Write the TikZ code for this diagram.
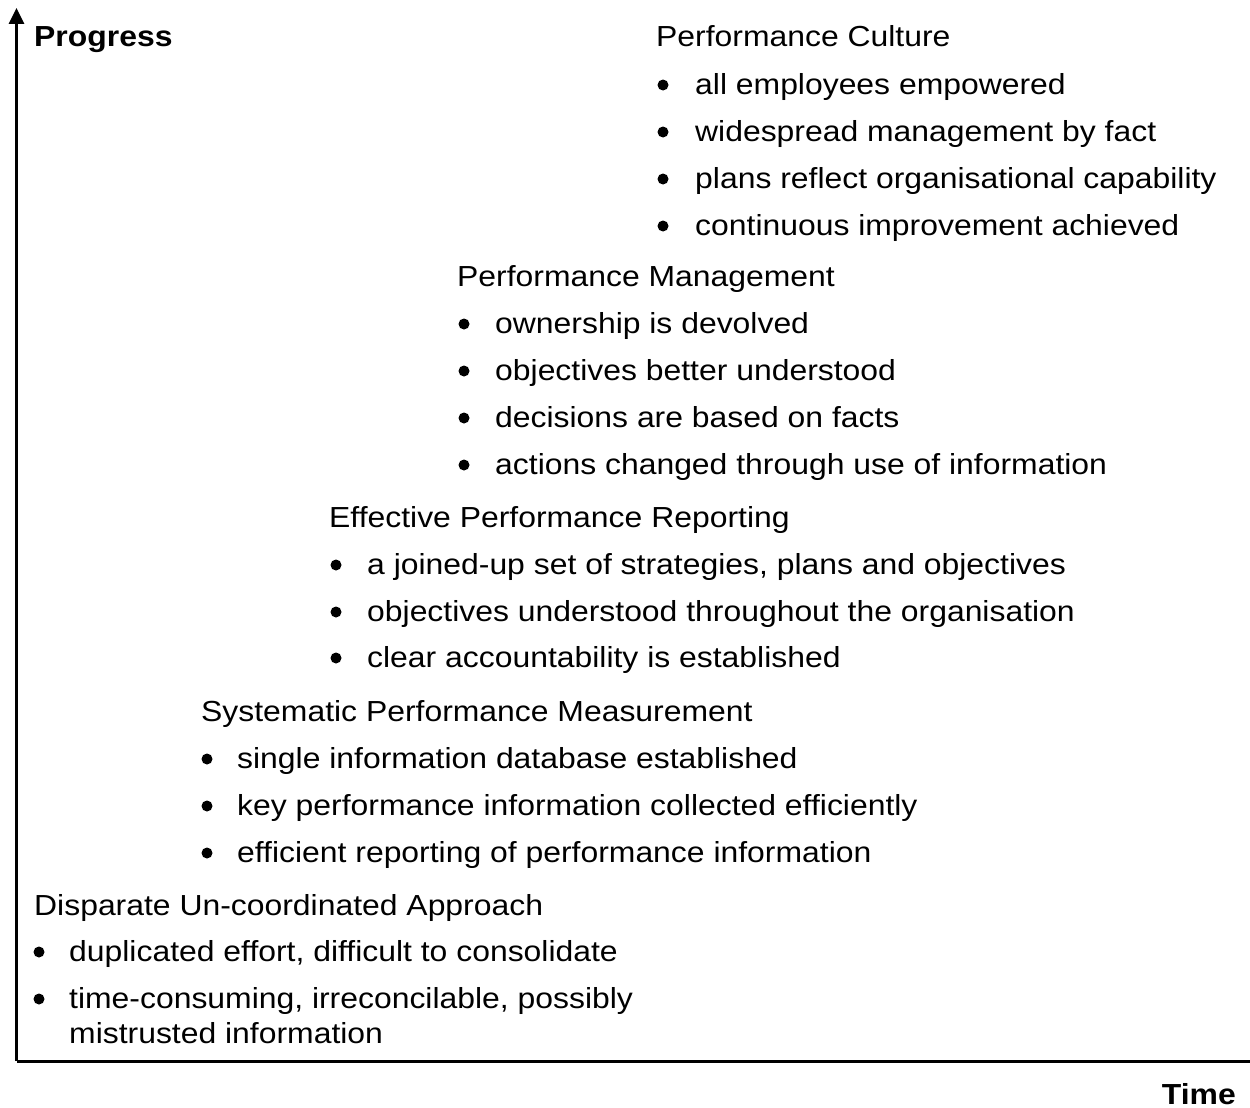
\documentclass[tikz,border=0pt]{standalone}
\usepackage{fontspec}
\setmainfont[FakeStretch=1.1]{Liberation Sans}
\usetikzlibrary{arrows.meta}
\tikzset{
  txt/.style={anchor=base west, inner sep=0pt, font=\fontsize{29}{34}\selectfont},
  bul/.style={circle, fill=black, inner sep=0pt, minimum size=11pt},
  bold/.style={txt, font=\fontsize{29}{34}\selectfont\bfseries},
  axis/.style={line width=3pt},
}
\begin{document}
\begin{tikzpicture}[x=1pt,y=-1pt]
\useasboundingbox (0,0) rectangle (1250,1108);
% axes
\coordinate (o) at (16.5,1061);
\coordinate (ytop) at (16.5,8);
\coordinate (xend) at (1250,1061);
\draw[axis,-{Triangle[length=16pt,width=15pt]}] (o) -- (ytop);
\draw[axis] (o) -- (xend);
\node[bold] (progress) at (34,47) {Progress};
\node[bold, anchor=base east] (time) at (1236,1104) {Time};
% Performance Culture
\node[txt] (pc) at (656,47) {Performance Culture};
\node[bul] (pcb1) at (663,85) {}; \node[txt] (pc1) at (695,94) {all employees empowered};
\node[bul] (pcb2) at (663,132) {}; \node[txt] (pc2) at (695,141) {widespread management by fact};
\node[bul] (pcb3) at (663,179) {}; \node[txt] (pc3) at (695,188) {plans reflect organisational capability};
\node[bul] (pcb4) at (663,226) {}; \node[txt] (pc4) at (695,235) {continuous improvement achieved};
% Performance Management
\node[txt] (pm) at (457,286) {Performance Management};
\node[bul] (pmb1) at (464,324) {}; \node[txt] (pm1) at (495,333) {ownership is devolved};
\node[bul] (pmb2) at (464,371) {}; \node[txt] (pm2) at (495,380) {objectives better understood};
\node[bul] (pmb3) at (464,418) {}; \node[txt] (pm3) at (495,427) {decisions are based on facts};
\node[bul] (pmb4) at (464,465) {}; \node[txt] (pm4) at (495,474) {actions changed through use of information};
% Effective Performance Reporting
\node[txt] (er) at (329,527) {Effective Performance Reporting};
\node[bul] (erb1) at (336,565) {}; \node[txt] (er1) at (367,574) {a joined-up set of strategies, plans and objectives};
\node[bul] (erb2) at (336,612) {}; \node[txt] (er2) at (367,621) {objectives understood throughout the organisation};
\node[bul] (erb3) at (336,658) {}; \node[txt] (er3) at (367,667) {clear accountability is established};
% Systematic Performance Measurement
\node[txt] (sm) at (201,721) {Systematic Performance Measurement};
\node[bul] (smb1) at (207,759) {}; \node[txt] (sm1) at (237,768) {single information database established};
\node[bul] (smb2) at (207,806) {}; \node[txt] (sm2) at (237,815) {key performance information collected efficiently};
\node[bul] (smb3) at (207,853) {}; \node[txt] (sm3) at (237,862) {efficient reporting of performance information};
% Disparate
\node[txt] (da) at (34,915) {Disparate Un-coordinated Approach};
\node[bul] (dab1) at (39,952) {}; \node[txt] (da1) at (69,961) {duplicated effort, difficult to consolidate};
\node[bul] (dab2) at (39,999) {}; \node[txt] (da2) at (69,1008) {time-consuming, irreconcilable, possibly};
\node[txt] (da3) at (69,1043) {mistrusted information};
\end{tikzpicture}
\end{document}
